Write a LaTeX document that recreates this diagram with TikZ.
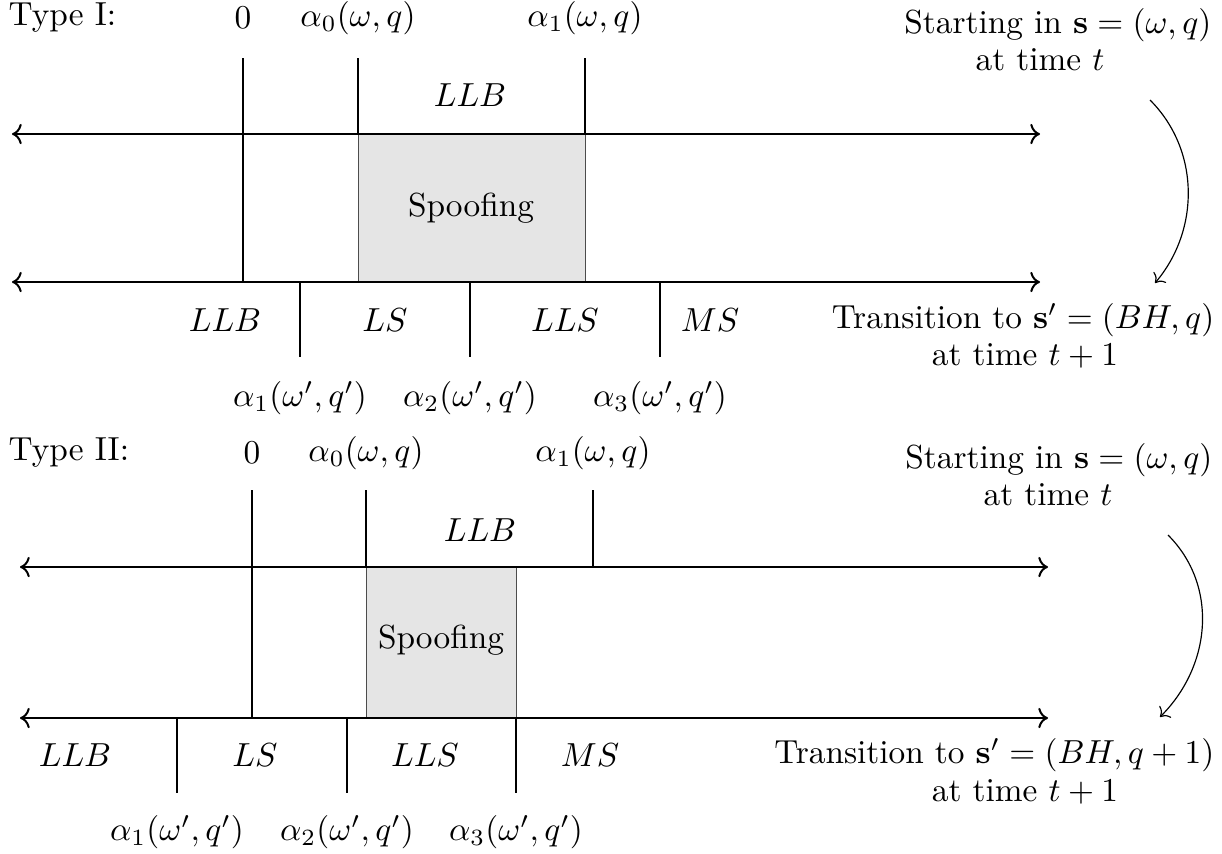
\documentclass[tikz,border=0pt]{standalone}
\usetikzlibrary{arrows.meta}
\begin{document}
\begin{tikzpicture}[x=0.3pt,y=-0.3pt,
  axisline/.style={line width=0.6pt,<->},
  tickline/.style={line width=0.6pt},
  spoofbox/.style={fill=black!10,draw=black!70,line width=0.3pt},
  lbl/.style={inner sep=0pt,font=\fontsize{10}{12}\selectfont},
  bendarrow/.style={line width=0.35pt,->}]
\useasboundingbox (0,0) rectangle (1222,853);

% ===== Type I =====
\coordinate (aL1) at (12,134);  \coordinate (aR1) at (1040,134);
\coordinate (bL1) at (12,282);  \coordinate (bR1) at (1040,282);
\coordinate (t0a) at (243,58);  \coordinate (t0b) at (243,282);
\coordinate (s0a) at (358,58);  \coordinate (s0b) at (358,134);
\coordinate (s1a) at (585,58);  \coordinate (s1b) at (585,134);
\coordinate (box1a) at (358,134); \coordinate (box1b) at (585,282);
\coordinate (u1a) at (300,282); \coordinate (u1b) at (300,357);
\coordinate (u2a) at (470,282); \coordinate (u2b) at (470,357);
\coordinate (u3a) at (660,282); \coordinate (u3b) at (660,357);

\fill[spoofbox] (box1a) rectangle (box1b);
\draw[axisline] (aL1) -- (aR1);
\draw[axisline] (bL1) -- (bR1);
\draw[tickline] (t0a) -- (t0b);
\draw[tickline] (s0a) -- (s0b);
\draw[tickline] (s1a) -- (s1b);
\draw[tickline] (u1a) -- (u1b);
\draw[tickline] (u2a) -- (u2b);
\draw[tickline] (u3a) -- (u3b);

\node[lbl,anchor=west] (typeI) at (8,18) {Type I:};
\node[lbl] (zeroI) at (243,18) {$0$};
\node[lbl] (alzI) at (358,18) {$\alpha_0(\omega,q)$};
\node[lbl] (aloI) at (585,18) {$\alpha_1(\omega,q)$};
\node[lbl] (llbtI) at (470,95) {$LLB$};
\node[lbl] (spI) at (471,208) {Spoofing};
\node[lbl] (llbI) at (225,320) {$LLB$};
\node[lbl] (lsI) at (385,320) {$LS$};
\node[lbl] (llsI) at (565,320) {$LLS$};
\node[lbl] (msI) at (710,320) {$MS$};
\node[lbl] (b1I) at (300,398) {$\alpha_1(\omega',q')$};
\node[lbl] (b2I) at (470,398) {$\alpha_2(\omega',q')$};
\node[lbl] (b3I) at (660,398) {$\alpha_3(\omega',q')$};
\node[lbl,anchor=east] (stI) at (1212,25) {Starting in $\mathbf{s}=(\omega,q)$};
\node[lbl] (ttI) at (1040,60) {at time $t$};
\node[lbl,anchor=east] (trI) at (1215,320) {Transition to $\mathbf{s}'=(BH,q)$};
\node[lbl] (tt1I) at (1025,356) {at time $t+1$};
\coordinate (cA1) at (1150,100);
\coordinate (cB1) at (1155,283);
\draw[bendarrow] (cA1) .. controls (1200,150) and (1200,230) .. (cB1);

% ===== Type II =====
\coordinate (aL2) at (20,567);  \coordinate (aR2) at (1048,567);
\coordinate (bL2) at (20,718);  \coordinate (bR2) at (1048,718);
\coordinate (t0c) at (252,490); \coordinate (t0d) at (252,718);
\coordinate (s0c) at (366,490); \coordinate (s0d) at (366,567);
\coordinate (s1c) at (593,490); \coordinate (s1d) at (593,567);
\coordinate (box2a) at (366,567); \coordinate (box2b) at (516,718);
\coordinate (v1a) at (177,718); \coordinate (v1b) at (177,793);
\coordinate (v2a) at (347,718); \coordinate (v2b) at (347,793);
\coordinate (v3a) at (516,718); \coordinate (v3b) at (516,793);

\fill[spoofbox] (box2a) rectangle (box2b);
\draw[axisline] (aL2) -- (aR2);
\draw[axisline] (bL2) -- (bR2);
\draw[tickline] (t0c) -- (t0d);
\draw[tickline] (s0c) -- (s0d);
\draw[tickline] (s1c) -- (s1d);
\draw[tickline] (v1a) -- (v1b);
\draw[tickline] (v2a) -- (v2b);
\draw[tickline] (v3a) -- (v3b);

\node[lbl,anchor=west] (typeII) at (8,453) {Type II:};
\node[lbl] (zeroII) at (252,453) {$0$};
\node[lbl] (alzII) at (366,453) {$\alpha_0(\omega,q)$};
\node[lbl] (aloII) at (593,453) {$\alpha_1(\omega,q)$};
\node[lbl] (llbtII) at (480,530) {$LLB$};
\node[lbl] (spII) at (441,640) {Spoofing};
\node[lbl] (llbII) at (75,755) {$LLB$};
\node[lbl] (lsII) at (255,755) {$LS$};
\node[lbl] (llsII) at (425,755) {$LLS$};
\node[lbl] (msII) at (590,755) {$MS$};
\node[lbl] (b1II) at (177,832) {$\alpha_1(\omega',q')$};
\node[lbl] (b2II) at (347,832) {$\alpha_2(\omega',q')$};
\node[lbl] (b3II) at (516,832) {$\alpha_3(\omega',q')$};
\node[lbl,anchor=east] (stII) at (1213,460) {Starting in $\mathbf{s}=(\omega,q)$};
\node[lbl] (ttII) at (1048,495) {at time $t$};
\node[lbl,anchor=east] (trII) at (1215,755) {Transition to $\mathbf{s}'=(BH,q+1)$};
\node[lbl] (tt1II) at (1025,792) {at time $t+1$};
\coordinate (cA2) at (1168,535);
\coordinate (cB2) at (1160,717);
\draw[bendarrow] (cA2) .. controls (1218,585) and (1212,665) .. (cB2);
\end{tikzpicture}
\end{document}
